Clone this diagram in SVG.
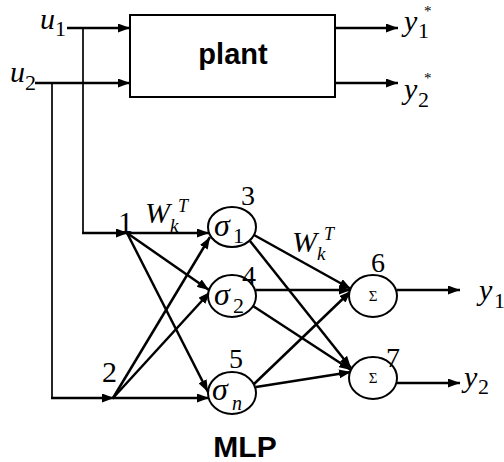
<svg xmlns="http://www.w3.org/2000/svg" width="504" height="462" viewBox="0 0 504 462">
<defs>
<marker id="ah" markerUnits="userSpaceOnUse" markerWidth="12" markerHeight="9" refX="12" refY="4.5" orient="auto">
<path d="M0,0 L12,4.5 L0,9 z" fill="#000"/>
</marker>
<style>
.c{stroke:#000;stroke-width:2.5;fill:none;marker-end:url(#ah)}
.t{stroke:#000;stroke-width:1.7;fill:none}
.n{fill:#fff;stroke:#000;stroke-width:2}
.it{font-family:"Liberation Serif",serif;font-style:italic;fill:#000}
.rm{font-family:"Liberation Serif",serif;fill:#000}
.b{font-family:"Liberation Sans",Arial,sans-serif;font-weight:bold;fill:#000}
</style>
</defs>
<rect width="504" height="462" fill="#fff"/>
<g id="connectors">
<polyline class="t" points="83,28 83,233"/>
<polyline class="t" points="52,83 52,398"/>
<line class="c" x1="67" y1="28" x2="130" y2="28"/>
<line class="c" x1="35" y1="83" x2="130" y2="83"/>
<line class="c" x1="335" y1="28" x2="398" y2="28"/>
<line class="c" x1="335" y1="83" x2="398" y2="83"/>
<line class="c" x1="82" y1="233" x2="128" y2="233"/>
<line class="c" x1="51" y1="398" x2="114" y2="398"/>
<line class="c" x1="127" y1="233" x2="209" y2="233"/>
<line class="c" x1="127" y1="233" x2="209" y2="290"/>
<line class="c" x1="127" y1="233" x2="208" y2="392"/>
<line class="c" x1="113" y1="398" x2="210" y2="237"/>
<line class="c" x1="113" y1="398" x2="210" y2="292"/>
<line class="c" x1="113" y1="398" x2="209" y2="398"/>
<line class="c" x1="254" y1="235" x2="351" y2="289"/>
<line class="c" x1="250" y1="241" x2="351" y2="368"/>
<line class="c" x1="256" y1="290" x2="351" y2="290"/>
<line class="c" x1="253" y1="306" x2="351" y2="370"/>
<line class="c" x1="254" y1="384" x2="351" y2="291"/>
<line class="c" x1="256" y1="387" x2="351" y2="372"/>
<line class="c" x1="397" y1="290" x2="460" y2="290"/>
<line class="c" x1="397" y1="383" x2="460" y2="383"/>
</g>
<g id="plant">
<rect x="130" y="15" width="205" height="82" fill="#fff" stroke="#000" stroke-width="2"/>
<text class="b" x="233" y="64" font-size="29" text-anchor="middle">plant</text>
</g>
<g id="u1"><text class="it" x="40" y="29" font-size="30">u</text><text class="rm" x="55" y="36" font-size="22">1</text></g>
<g id="u2"><text class="it" x="10" y="82" font-size="30">u</text><text class="rm" x="25" y="90" font-size="22">2</text></g>
<g id="y1s"><text class="it" x="404" y="31" font-size="30">y</text><text class="rm" x="418" y="38" font-size="22">1</text><text class="rm" x="424" y="16" font-size="15">*</text></g>
<g id="y2s"><text class="it" x="404" y="99" font-size="30">y</text><text class="rm" x="418" y="107" font-size="22">2</text><text class="rm" x="424" y="83" font-size="15">*</text></g>
<g id="node1"><text class="rm" x="118" y="232" font-size="30">1</text></g>
<g id="node2"><text class="rm" x="102" y="382" font-size="30">2</text></g>
<g id="w1"><text class="it" x="145" y="223" font-size="30">W</text><text class="it" x="170" y="232" font-size="19">k</text><text class="it" x="178" y="212" font-size="18">T</text></g>
<g id="w2"><text class="it" x="292" y="252" font-size="30">W</text><text class="it" x="317" y="260" font-size="19">k</text><text class="it" x="324" y="240" font-size="18">T</text></g>
<g id="node3"><ellipse class="n" cx="232" cy="227" rx="24" ry="20"/><text class="it" x="214" y="236" font-size="32">σ</text><text class="rm" x="233" y="243" font-size="22">1</text><text class="rm" x="241" y="205" font-size="28">3</text></g>
<g id="node4"><ellipse class="n" cx="232" cy="296" rx="24" ry="21"/><text class="it" x="214" y="305" font-size="32">σ</text><text class="rm" x="233" y="313" font-size="22">2</text><text class="rm" x="242" y="285" font-size="28">4</text></g>
<g id="node5"><ellipse class="n" cx="232" cy="393" rx="24" ry="21"/><text class="it" x="212" y="400" font-size="32">σ</text><text class="it" x="232" y="410" font-size="20">n</text><text class="rm" x="229" y="368" font-size="28">5</text></g>
<g id="node6"><ellipse class="n" cx="373" cy="296" rx="24" ry="21"/><text class="rm" x="373" y="301" font-size="15" text-anchor="middle">Σ</text><text class="rm" x="371" y="272" font-size="28">6</text></g>
<g id="node7"><ellipse class="n" cx="373" cy="378" rx="24" ry="21"/><text class="rm" x="373" y="383" font-size="15" text-anchor="middle">Σ</text><text class="rm" x="386" y="367" font-size="28">7</text></g>
<g id="y1"><text class="it" x="479" y="300" font-size="30">y</text><text class="rm" x="494" y="308" font-size="22">1</text></g>
<g id="y2"><text class="it" x="464" y="387" font-size="30">y</text><text class="rm" x="478" y="394" font-size="22">2</text></g>
<g id="mlp"><text class="b" x="245" y="457" font-size="30" text-anchor="middle">MLP</text></g>
</svg>
